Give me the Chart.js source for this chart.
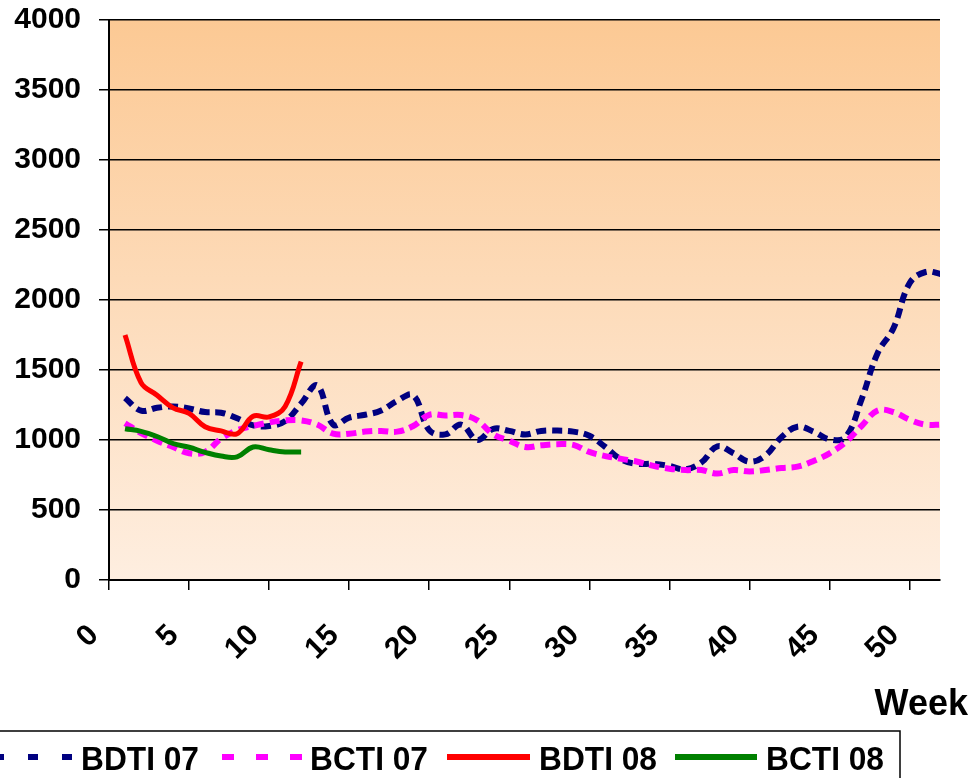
<!DOCTYPE html>
<html>
<head>
<meta charset="utf-8">
<script src="https://cdn.jsdelivr.net/npm/chart.js@4/dist/chart.umd.min.js"></script>
<style>
  body { margin: 0; background: #fff; }
</style>
</head>
<body>
<canvas id="chart" width="973" height="778"></canvas>
<script>
// weeks 1..52 for 2007, 1..12 for 2008
const weeks07 = [1,2,3,4,5,6,7,8,9,10,11,12,13,14,15,16,17,18,19,20,21,22,23,24,25,26,
  27,28,29,30,31,32,33,34,35,36,37,38,39,40,41,42,43,44,45,46,47,48,49,50,51,52];
const weeks08 = [1,2,3,4,5,6,7,8,9,10,11,12];

const bdti07 = [1300,1210,1230,1240,1225,1200,1195,1155,1105,1100,1135,1260,1390,1110,1160,1180,1210,1280,1320,1070,
  1040,1110,1000,1080,1065,1040,1065,1067,1060,1030,950,860,830,830,815,790,840,955,905,845,
  890,1020,1095,1060,1005,1020,1290,1620,1800,2120,2200,2185];
const bcti07 = [1120,1050,995,950,905,915,1010,1070,1100,1125,1140,1140,1110,1045,1045,1060,1065,1060,1100,1180,
  1175,1178,1140,1040,995,950,962,970,965,915,885,865,845,815,795,785,785,760,785,775,
  785,800,810,850,905,985,1100,1210,1200,1145,1110,1110];
const bdti08 = [1750,1410,1320,1230,1190,1095,1065,1045,1170,1165,1240,1560];
const bcti08 = [1080,1062,1025,975,948,912,885,880,950,930,915,915];

const xTicks = [0,5,10,15,20,25,30,35,40,45,50];
const seriesNames = ['BDTI 07', 'BCTI 07', 'BDTI 08', 'BCTI 08'];
const seriesColors = ['#000080', '#FF00FF', '#FF0000', '#008000'];

const FONT = '"Liberation Sans", Arial, sans-serif';

function toPoints(weeks, values) {
  return values.map((v, i) => ({ x: weeks[i], y: v }));
}

// orange gradient behind the plot
const plotBackground = {
  id: 'plotBackground',
  beforeDraw(chart) {
    const { ctx, chartArea: a } = chart;
    const g = ctx.createLinearGradient(0, a.top, 0, a.bottom);
    g.addColorStop(0, '#FCC994');
    g.addColorStop(1, '#FEEEE0');
    ctx.save();
    ctx.fillStyle = g;
    ctx.fillRect(a.left, a.top, a.right - a.left, a.bottom - a.top);
    ctx.restore();
  }
};

// axis title + boxed legend at the bottom
const bottomLegend = {
  id: 'bottomLegend',
  afterDraw(chart) {
    const ctx = chart.ctx;
    ctx.save();
    ctx.fillStyle = '#000';
    ctx.font = 'bold 36px ' + FONT;
    ctx.textAlign = 'right';
    ctx.textBaseline = 'alphabetic';
    ctx.fillText('Week', 968, 715);

    ctx.strokeStyle = '#000';
    ctx.lineWidth = 1.5;
    ctx.strokeRect(-5, 731, 905, 60);

    const items = [
      { x0: -6, x1: 74, dash: [10, 24], w: 6, tx: 81 },
      { x0: 222, x1: 302, dash: [12, 22], w: 6, tx: 310 },
      { x0: 447, x1: 530, dash: [], w: 6, tx: 539 },
      { x0: 675, x1: 757, dash: [], w: 6, tx: 766 }
    ];
    items.forEach((it, i) => {
      ctx.beginPath();
      ctx.setLineDash(it.dash);
      ctx.lineCap = 'butt';
      ctx.lineWidth = it.w;
      ctx.strokeStyle = seriesColors[i];
      ctx.moveTo(it.x0, 757);
      ctx.lineTo(it.x1, 757);
      ctx.stroke();
      ctx.setLineDash([]);
      ctx.fillStyle = '#000';
      ctx.font = 'bold 33px ' + FONT;
      ctx.textAlign = 'left';
      ctx.fillText(seriesNames[i], it.tx, 770, 118);
    });
    ctx.restore();
  }
};

const tickFont = { family: FONT, size: 30, weight: 'bold' };

new Chart(document.getElementById('chart'), {
  type: 'line',
  data: {
    datasets: [
      {
        label: seriesNames[0],
        data: toPoints(weeks07, bdti07),
        borderColor: seriesColors[0],
        borderWidth: 6,
        borderDash: [10, 6],
        order: 3
      },
      {
        label: seriesNames[1],
        data: toPoints(weeks07, bcti07),
        borderColor: seriesColors[1],
        borderWidth: 6,
        borderDash: [10, 6],
        order: 2
      },
      {
        label: seriesNames[2],
        data: toPoints(weeks08, bdti08),
        borderColor: seriesColors[2],
        borderWidth: 5,
        order: 0
      },
      {
        label: seriesNames[3],
        data: toPoints(weeks08, bcti08),
        borderColor: seriesColors[3],
        borderWidth: 5,
        order: 1
      }
    ]
  },
  options: {
    responsive: false,
    animation: false,
    layout: { padding: { top: 20, right: 33, left: 0, bottom: 0 } },
    elements: {
      point: { radius: 0 },
      line: { tension: 0.4, fill: false, borderCapStyle: 'butt' }
    },
    plugins: {
      legend: { display: false },
      tooltip: { enabled: false }
    },
    scales: {
      x: {
        type: 'linear',
        min: 0,
        max: 51.9,
        afterBuildTicks: s => { s.ticks = xTicks.map(v => ({ value: v })); },
        afterFit: s => { s.height = 198; s.paddingLeft = 0; s.paddingRight = 0; },
        border: { color: '#000', width: 2 },
        grid: { drawOnChartArea: false, color: '#000', lineWidth: 1.5, tickLength: 10 },
        ticks: {
          autoSkip: false,
          minRotation: 45,
          maxRotation: 45,
          padding: 28,
          labelOffset: -15,
          color: '#000',
          font: tickFont
        }
      },
      y: {
        min: 0,
        max: 4000,
        afterFit: s => { s.width = 109; s.paddingTop = 0; s.paddingBottom = 0; },
        border: { color: '#000', width: 2 },
        grid: { color: '#000', lineWidth: 1.5, tickLength: 10 },
        ticks: {
          stepSize: 500,
          padding: 18,
          color: '#000',
          font: tickFont,
          callback: v => String(v)
        }
      }
    }
  },
  plugins: [plotBackground, bottomLegend]
});
</script>
</body>
</html>
